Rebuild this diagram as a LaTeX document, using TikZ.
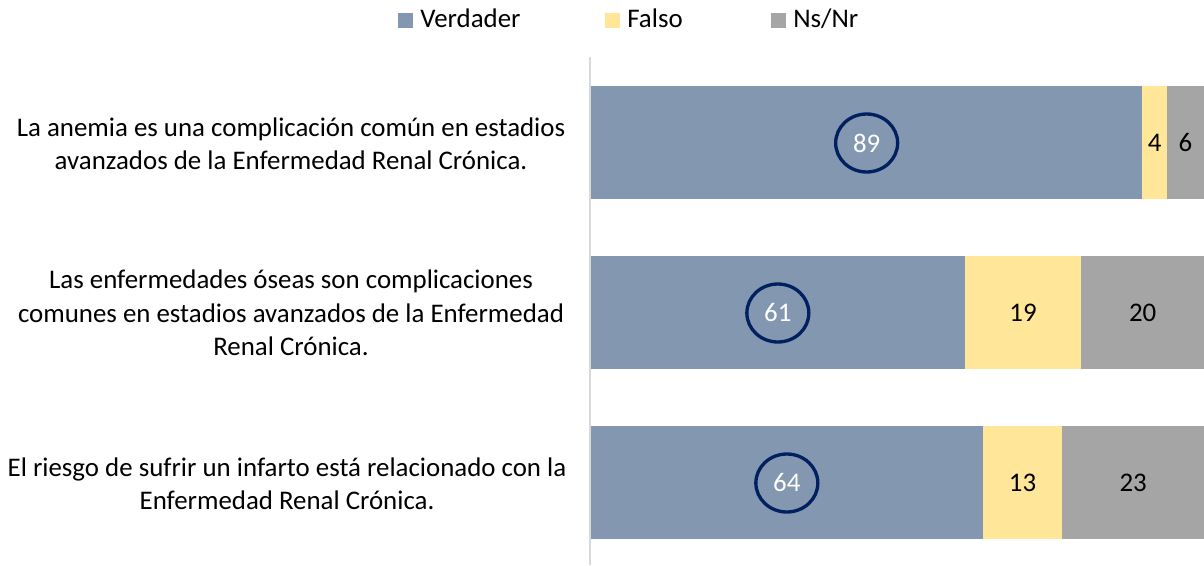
\documentclass[tikz,border=0pt]{standalone}
\usepackage{fontspec}
\setmainfont{Carlito}
\usepackage{xcolor}
\definecolor{verdader}{HTML}{8497B0}
\definecolor{falso}{HTML}{FFE699}
\definecolor{nsnr}{HTML}{A5A5A5}
\definecolor{navy}{HTML}{002060}
\definecolor{axisgray}{HTML}{D9D9D9}
\usepackage{tikz}
\usetikzlibrary{shapes.geometric,positioning}

\begin{document}
\begin{tikzpicture}[x=0.02cm,y=-0.02cm,
  qtext/.style={align=center,inner sep=0pt,font=\fontsize{15.3}{19}\selectfont},
  valtext/.style={inner sep=0pt,font=\fontsize{15.3}{19}\selectfont},
  ring/.style={ellipse,draw=navy,line width=1.9pt,minimum width=1.24cm,minimum height=1.16cm,
    text=white,inner sep=0pt,font=\fontsize{15.3}{19}\selectfont},
  legbox/.style={rectangle,inner sep=0pt,minimum size=0.3cm},
  legtext/.style={inner sep=0pt,anchor=base west,font=\fontsize{15.3}{19}\selectfont}
]
\useasboundingbox (0,0) rectangle (1204,565);

% legend
\foreach \x/\c/\t/\n in {398/verdader/Verdader/v, 605/falso/Falso/f, 771/nsnr/Ns\slash Nr/n} {
    \node[legbox,fill=\c] (box\n) at (\x+7.5,20.5) {};
    \node[legtext] (leg\n) at (\x+22,27) {\t};
}

% the axis
\draw[axisgray,line width=1.5pt] (590,57) -- (590,565);

% the bars
\foreach \i/\y/\a/\b/\va/\vb/\vc in {1/86/1142.3/1167/89/4/6,
                                   2/256/964.7/1081.3/61/19/20,
                                   3/426/982.7/1062.3/64/13/23} {
    \fill[verdader] (591,\y) rectangle (\a,\y+113.3);
    \fill[falso] (\a,\y) rectangle (\b,\y+113.3);
    \fill[nsnr] (\b,\y) rectangle (1204,\y+113.3);
    \node[ring] (ver\i) at ({(591+\a)/2},\y+57) {\va};
    \node[valtext] (fal\i) at ({(\a+\b)/2},\y+57) {\vb};
    \node[valtext] (nsn\i) at ({(\b+1204)/2},\y+57) {\vc};
}

% the questions
\node[qtext] (q1) at (291,144) {La anemia es una complicación común en estadios\\avanzados de la Enfermedad Renal Crónica.};
\node[qtext] (q2) at (291,313) {Las enfermedades óseas son complicaciones\\comunes en estadios avanzados de la Enfermedad\\Renal Crónica.};
\node[qtext] (q3) at (287,484) {El riesgo de sufrir un infarto está relacionado con la\\Enfermedad Renal Crónica.};

\end{tikzpicture}
\end{document}
